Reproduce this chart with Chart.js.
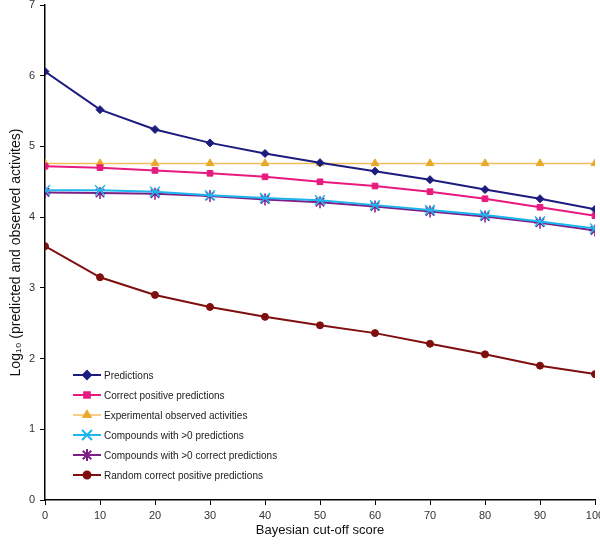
<!DOCTYPE html>
<html>
<head>
<meta charset="utf-8">
<script src="https://cdn.jsdelivr.net/npm/chart.js@4/dist/chart.umd.min.js"></script>
<style>
  html, body { margin: 0; padding: 0; background: #fff; }
  #wrap { width: 600px; height: 547px; }
</style>
</head>
<body>
<div id="wrap"><canvas id="line"></canvas></div>
<script>
// cut-off scores on the x axis
var cutoffs = [0, 10, 20, 30, 40, 50, 60, 70, 80, 90, 100];

// log10 values
var predictions = [6.06, 5.52, 5.24, 5.05, 4.90, 4.77, 4.65, 4.53, 4.39, 4.26, 4.11];
var correctPositive = [4.72, 4.70, 4.66, 4.62, 4.57, 4.50, 4.44, 4.36, 4.26, 4.14, 4.02];
var experimental = [4.76, 4.76, 4.76, 4.76, 4.76, 4.76, 4.76, 4.76, 4.76, 4.76, 4.76];
var compoundsPred = [4.38, 4.38, 4.36, 4.31, 4.27, 4.24, 4.17, 4.10, 4.03, 3.94, 3.84];
var compoundsCorrect = [4.35, 4.34, 4.33, 4.30, 4.25, 4.21, 4.15, 4.08, 4.01, 3.92, 3.81];
var randomCorrect = [3.59, 3.15, 2.90, 2.73, 2.59, 2.47, 2.36, 2.21, 2.06, 1.90, 1.78];

var yTicks = [0, 1, 2, 3, 4, 5, 6, 7];

function pts(values) {
    return values.map(function(v, i) { return {x: cutoffs[i], y: v}; });
}

var fontFam = '"Liberation Sans", Arial, sans-serif';

// legend drawn inside the plot, line + marker like the original
var innerLegend = {
    id: 'innerLegend',
    afterDraw: function(chart) {
        var ctx = chart.ctx;
        ctx.save();
        ctx.font = '10px ' + fontFam;
        ctx.textBaseline = 'middle';
        chart.data.datasets.forEach(function(ds, i) {
            var y = 375 + i * 20;
            ctx.strokeStyle = ds.borderColor;
            ctx.lineWidth = ds.borderWidth;
            ctx.beginPath();
            ctx.moveTo(73, y);
            ctx.lineTo(101, y);
            ctx.stroke();
            ctx.fillStyle = ds.pointBackgroundColor;
            ctx.strokeStyle = ds.pointBorderColor;
            Chart.helpers.drawPoint(ctx, {
                pointStyle: ds.pointStyle,
                radius: ds.pointRadius,
                rotation: 0,
                borderWidth: ds.pointBorderWidth
            }, 87, y);
            ctx.fillStyle = '#222';
            ctx.fillText(ds.label, 104, y + 1);
        });
        ctx.restore();
    }
};

var ctx = document.getElementById('line').getContext('2d');
var myChart = new Chart(ctx, {
    type: 'line',
    data: {
        datasets: [{
            label: 'Predictions',
            data: pts(predictions),
            borderColor: '#1c1c7e',
            borderWidth: 2,
            pointStyle: 'rectRot',
            pointRadius: 4,
            pointBackgroundColor: '#1c1c7e',
            pointBorderColor: '#1c1c7e',
            pointBorderWidth: 1
        }, {
            label: 'Correct positive predictions',
            data: pts(correctPositive),
            borderColor: '#e81a7f',
            borderWidth: 2,
            pointStyle: 'rect',
            pointRadius: 4,
            pointBackgroundColor: '#e81a7f',
            pointBorderColor: '#e81a7f',
            pointBorderWidth: 1
        }, {
            label: 'Experimental observed activities',
            data: pts(experimental),
            borderColor: '#f2be5c',
            borderWidth: 1.5,
            pointStyle: 'triangle',
            pointRadius: 4.5,
            pointBackgroundColor: '#e8a82a',
            pointBorderColor: '#e8a82a',
            pointBorderWidth: 1
        }, {
            label: 'Compounds with >0 predictions',
            data: pts(compoundsPred),
            borderColor: '#1eb6ee',
            borderWidth: 2,
            pointStyle: 'crossRot',
            pointRadius: 7,
            pointBackgroundColor: '#1eb6ee',
            pointBorderColor: '#1eb6ee',
            pointBorderWidth: 1.5
        }, {
            label: 'Compounds with >0 correct predictions',
            data: pts(compoundsCorrect),
            borderColor: '#7e1f88',
            borderWidth: 2,
            pointStyle: 'star',
            pointRadius: 6,
            pointBackgroundColor: '#7e1f88',
            pointBorderColor: '#7e1f88',
            pointBorderWidth: 1.5
        }, {
            label: 'Random correct positive predictions',
            data: pts(randomCorrect),
            borderColor: '#7f0e0e',
            borderWidth: 2,
            pointStyle: 'circle',
            pointRadius: 3.5,
            pointBackgroundColor: '#7f0e0e',
            pointBorderColor: '#7f0e0e',
            pointBorderWidth: 1
        }]
    },
    options: {
        responsive: true,
        maintainAspectRatio: false,
        animation: false,
        layout: { autoPadding: false, padding: { top: 5, right: 5, left: 0, bottom: 0 } },
        plugins: {
            legend: { display: false },
            tooltip: { enabled: false }
        },
        elements: { line: { tension: 0 } },
        scales: {
            x: {
                type: 'linear',
                min: 0,
                max: 100,
                afterFit: function(scale) {
                    scale.height = 47;
                    scale.paddingLeft = 0;
                    scale.paddingRight = 0;
                },
                border: { color: '#000', width: 1.5 },
                grid: { drawOnChartArea: false, drawTicks: true, tickLength: 5, color: '#000' },
                ticks: {
                    stepSize: 10,
                    padding: 4,
                    color: '#333',
                    font: { family: fontFam, size: 11 }
                },
                title: {
                    display: true,
                    text: 'Bayesian cut-off score',
                    color: '#111',
                    padding: { top: 0, bottom: 9 },
                    font: { family: fontFam, size: 13 }
                }
            },
            y: {
                min: 0,
                max: 7,
                afterFit: function(scale) {
                    scale.width = 45;
                    scale.paddingTop = 0;
                    scale.paddingBottom = 0;
                },
                afterBuildTicks: function(scale) {
                    scale.ticks = yTicks.map(function(v) { return {value: v}; });
                },
                border: { color: '#000', width: 1.5 },
                grid: { drawOnChartArea: false, drawTicks: true, tickLength: 5, color: '#000' },
                ticks: {
                    padding: 5,
                    color: '#333',
                    font: { family: fontFam, size: 11 }
                },
                title: {
                    display: true,
                    text: 'Log\u2081\u2080 (predicted and observed activites)',
                    color: '#111',
                    padding: { top: 8, bottom: 0 },
                    font: { family: fontFam, size: 14 }
                }
            }
        }
    },
    plugins: [innerLegend]
});
</script>
</body>
</html>
